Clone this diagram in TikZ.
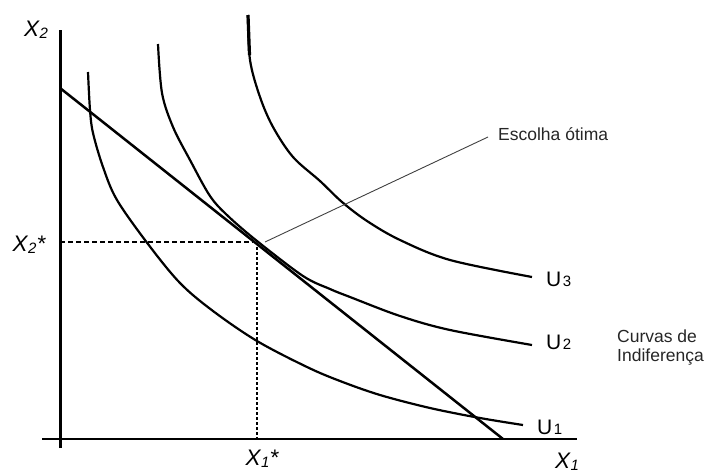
\documentclass[tikz,border=0pt]{standalone}
\usepackage{fontspec}
\setmainfont{Liberation Sans}
\newcommand{\xsub}[1]{\kern0.5pt\raisebox{-1.5pt}{\fontsize{15}{15}\selectfont #1}}
\newcommand{\usub}[1]{\kern1.5pt{\fontsize{15}{15}\selectfont #1}}
\tikzset{
  axis/.style={line width=3pt},
  budget/.style={line width=2.5pt},
  icurve/.style={line width=2.2pt, smooth, tension=0.55},
  guide/.style={line width=1.8pt, dash pattern=on 5pt off 3pt},
  guidedot/.style={line width=1.8pt, dash pattern=on 2.5pt off 2.5pt},
  pointer/.style={line width=0.9pt, draw=black!75},
  xlab/.style={font=\fontsize{22.5}{22.5}\selectfont\itshape, inner sep=0pt},
  ulab/.style={font=\fontsize{21}{21}\selectfont, inner sep=0pt, anchor=west},
  small/.style={font=\fontsize{17.5}{19}\selectfont, inner sep=0pt, text=black!85}
}
\begin{document}
\begin{tikzpicture}[x=1pt,y=-1pt]
\useasboundingbox (0,0) rectangle (707,474);
% axes
\coordinate (ytop) at (60,30);
\coordinate (ybot) at (60,448);
\coordinate (xleft) at (42,439);
\coordinate (xright) at (577,439);
\draw[axis] (ybot) -- (ytop);
\draw[axis, line width=2.4pt] (xleft) -- (xright);
% budget line
\coordinate (B0) at (60,88);
\coordinate (B1) at (503,439);
\draw[budget] (B0) -- (B1);
% indifference curves
\draw[icurve] plot coordinates {(88,72) (90,110) (93,133) (103,167) (117,200) (148,244) (180,283) (213,311) (257,341) (307,367) (340,381) (380,395) (430,408) (480,418) (523,425)};
\draw[icurve] plot coordinates {(158,44) (162,93) (173,127) (190,160) (210,196) (228,216) (257,241) (303,276) (330,289) (350,297) (400,316) (450,330) (532,345)};
\draw[icurve] plot coordinates {(248,15) (250,60) (260,97) (273,127) (293,157) (320,181) (342,202) (367,221) (400,240) (450,260) (532,277)};
\draw[line width=3.2pt] (248,15) -- (249.5,55);
% optimum guides
\coordinate (hd0) at (60,242);
\coordinate (hd1) at (253,242);
\coordinate (vd0) at (257,247);
\coordinate (vd1) at (257,439);
\draw[guide] (hd0) -- (hd1);
\draw[guidedot] (vd0) -- (vd1);
% pointer to label
\coordinate (P0) at (265,242);
\coordinate (P1) at (488,137);
\draw[pointer] (P0) -- (P1);
\node[small, anchor=west] (esc) at (498,134) {Escolha ótima};
% axis labels
\node[xlab] (x2) at (36,30) {X\xsub{2}};
\node[xlab] (x2s) at (29,245) {X\xsub{2}*};
\node[xlab] (x1s) at (262,459) {X\xsub{1}*};
\node[xlab] (x1) at (567,462) {X\xsub{1}};
% curve labels
\node[ulab] (u3) at (546,279) {U\usub{3}};
\node[ulab] (u2) at (546,342) {U\usub{2}};
\node[ulab] (u1) at (537,427) {U\usub{1}};
\node[small, anchor=north west, align=left] (cdi) at (617,330) {Curvas de\\Indiferença};
\end{tikzpicture}
\end{document}
